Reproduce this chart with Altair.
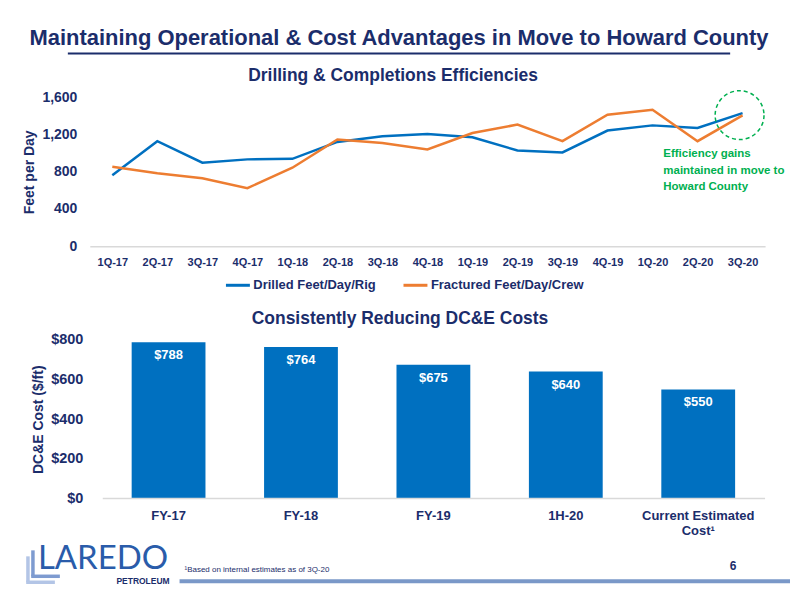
import altair as alt
import pandas as pd

# ---------------- data ----------------
quarters = ["1Q-17", "2Q-17", "3Q-17", "4Q-17", "1Q-18", "2Q-18", "3Q-18", "4Q-18",
            "1Q-19", "2Q-19", "3Q-19", "4Q-19", "1Q-20", "2Q-20", "3Q-20"]
drilled = [763, 1130, 898, 934, 940, 1122, 1183, 1208, 1172, 1030, 1009, 1244, 1300, 1272, 1432]
fractured = [855, 784, 731, 624, 844, 1148, 1110, 1041, 1218, 1308, 1130, 1415, 1468, 1130, 1408]
series_names = ["Drilled Feet/Day/Rig", "Fractured Feet/Day/Crew"]
series_colors = ["#0070C0", "#ED7D31"]
top_ticks = [0, 400, 800, 1200, 1600]

periods = ["FY-17", "FY-18", "FY-19", "1H-20", "Current Estimated Cost¹"]
costs = [788, 764, 675, 640, 550]
bottom_ticks = [0, 200, 400, 600, 800]

main_title = "Maintaining Operational & Cost Advantages in Move to Howard County"
top_title = "Drilling & Completions Efficiencies"
bottom_title = "Consistently Reducing DC&E Costs"
annotation_text = "Efficiency gains\nmaintained in move to\nHoward County"
annotation_quarter = ["3Q-20"]
annotation_value = [1410]
footnote = "¹Based on internal estimates as of 3Q-20"
page_number = "6"
logo_main = "LAREDO"
logo_sub = "PETROLEUM"

# ---------------- style ----------------
NAVY = "#1B2D6B"
GREEN = "#00B050"
FONT = "Liberation Sans"
W = 677
H_TOP = 149
H_BOT = 159

df_lines = pd.DataFrame({
    "quarter": quarters * 2,
    "value": drilled + fractured,
    "series": [series_names[0]] * len(quarters) + [series_names[1]] * len(quarters),
})
df_bars = pd.DataFrame({"period": periods, "cost": costs})
dummy = pd.DataFrame({"k": [0]})

x_top = alt.X("quarter:N", sort=quarters,
              scale=alt.Scale(type="point", padding=0.5),
              axis=alt.Axis(title=None, labelAngle=0, labelFontSize=11, labelFont=FONT,
                            labelFontWeight="bold", labelColor=NAVY, labelPadding=10,
                            ticks=False, domainColor="#D9D9D9", domainWidth=1.5, grid=False))
y_top = alt.Y("value:Q", scale=alt.Scale(domain=[0, 1600], nice=False),
              axis=alt.Axis(values=top_ticks, tickCount=len(top_ticks), format=",.0f",
                            title="Feet per Day",
                            labelFontSize=14, labelFont=FONT, labelFontWeight="bold",
                            labelColor=NAVY, labelPadding=13, ticks=False, domain=False,
                            grid=False, labelOverlap=False, titleFontSize=14, titleFont=FONT,
                            titleFontWeight="bold", titleColor=NAVY, titlePadding=5))

lines = alt.Chart(df_lines).mark_line(strokeWidth=2.5).encode(
    x=x_top, y=y_top,
    color=alt.Color("series:N", sort=series_names,
                    scale=alt.Scale(domain=series_names, range=series_colors),
                    legend=alt.Legend(orient="none", legendX=135, legendY=174.5,
                                      direction="horizontal", title=None,
                                      symbolType="stroke", symbolSize=576,
                                      symbolStrokeWidth=3, labelFontSize=13,
                                      labelFont=FONT, labelFontWeight="bold",
                                      labelColor=NAVY, columnPadding=21,
                                      labelOffset=2, padding=0)),
)

df_circle = pd.DataFrame({"quarter": annotation_quarter, "value": annotation_value})
circle = alt.Chart(df_circle).mark_point(
    shape="circle", size=2400, filled=False, color=GREEN, strokeWidth=1.5,
    strokeDash=[4, 3], opacity=1, xOffset=-3
).encode(x=alt.X("quarter:N", sort=quarters), y=alt.Y("value:Q"))

annot = alt.Chart(dummy).mark_text(
    text=annotation_text, lineBreak="\n", align="left", baseline="top",
    font=FONT, fontSize=11.5, fontWeight="bold", color=GREEN, lineHeight=16.5
).encode(x=alt.value(575), y=alt.value(51))

title_main = alt.Chart(dummy).mark_text(
    text=main_title, align="center", baseline="middle", font=FONT, fontSize=22,
    fontWeight="bold", color=NAVY
).encode(x=alt.value(310), y=alt.value(-60))

underline = alt.Chart(dummy).mark_rule(color=NAVY, strokeWidth=2).encode(
    x=alt.value(-22), x2=alt.value(642), y=alt.value(-44))

title_top = alt.Chart(dummy).mark_text(
    text=top_title, align="center", baseline="middle", font=FONT, fontSize=17.5,
    fontWeight="bold", color=NAVY
).encode(x=alt.value(304), y=alt.value(-22))

corner_top = alt.Chart(dummy).mark_rule(strokeOpacity=0, strokeWidth=1).encode(
    x=alt.value(-82), x2=alt.value(-81), y=alt.value(-88.5))
bottom_edge_top = alt.Chart(dummy).mark_rule(strokeOpacity=0, strokeWidth=1).encode(
    x=alt.value(0), x2=alt.value(1), y=alt.value(199.5))

top = alt.layer(lines, circle, annot, title_main, underline, title_top,
                corner_top, bottom_edge_top).properties(width=W, height=H_TOP)

# ---------------- bottom chart ----------------
x_bot = alt.X("period:N", sort=periods,
              scale=alt.Scale(paddingInner=0.4426, paddingOuter=0.2712, align=0.583),
              axis=alt.Axis(title=None, labelAngle=0, labelFontSize=13, labelFont=FONT,
                            labelFontWeight="bold", labelColor=NAVY, labelPadding=11,
                            ticks=False, domain=False, grid=False, labelLineHeight=15,
                            labelExpr="datum.value == 'Current Estimated Cost¹' ? ['Current Estimated', 'Cost¹'] : datum.label"))
y_bot = alt.Y("cost:Q", scale=alt.Scale(domain=[0, 800], nice=False),
              axis=alt.Axis(values=bottom_ticks, tickCount=len(bottom_ticks),
                            format="$,.0f", title="DC&E Cost ($/ft)",
                            labelFontSize=14.5, labelFont=FONT, labelFontWeight="bold",
                            labelColor=NAVY, labelPadding=7, ticks=False, domain=False,
                            grid=False, labelOverlap=False, titleFontSize=14, titleFont=FONT,
                            titleFontWeight="bold", titleColor=NAVY, titlePadding=5))

bars = alt.Chart(df_bars).mark_bar(color="#0070C0").encode(x=x_bot, y=y_bot)
bar_labels = alt.Chart(df_bars).mark_text(
    color="white", font=FONT, fontSize=13, fontWeight="bold", baseline="middle", dy=13
).encode(x=alt.X("period:N", sort=periods), y=alt.Y("cost:Q"),
         text=alt.Text("cost:Q", format="$,.0f"))

baseline_rule = alt.Chart(dummy).mark_rule(color="#D9D9D9", strokeWidth=1.5).encode(
    x=alt.value(13), x2=alt.value(677), y=alt.value(H_BOT))

title_bot = alt.Chart(dummy).mark_text(
    text=bottom_title, align="center", baseline="middle", font=FONT, fontSize=17.5,
    fontWeight="bold", color=NAVY
).encode(x=alt.value(311), y=alt.value(-21))

foot = alt.Chart(dummy).mark_text(
    text=footnote, align="left", baseline="middle", font=FONT, fontSize=8, color=NAVY
).encode(x=alt.value(95), y=alt.value(231))

page = alt.Chart(dummy).mark_text(
    text=page_number, align="center", baseline="middle", font=FONT, fontSize=12,
    fontWeight="bold", color=NAVY
).encode(x=alt.value(645), y=alt.value(227))

footer_line = alt.Chart(dummy).mark_rule(color="#7A98C8", strokeWidth=4).encode(
    x=alt.value(90), x2=alt.value(702), y=alt.value(242))

logo_l1v = alt.Chart(dummy).mark_rule(color="#7E9BD0", strokeWidth=3.5).encode(
    x=alt.value(-57), y=alt.value(211), y2=alt.value(237))
logo_l1h = alt.Chart(dummy).mark_rule(color="#7E9BD0", strokeWidth=3.5).encode(
    x=alt.value(-58.75), x2=alt.value(-30), y=alt.value(237))
logo_l2v = alt.Chart(dummy).mark_rule(color="#B3C5E6", strokeWidth=3.5).encode(
    x=alt.value(-62), y=alt.value(217), y2=alt.value(243))
logo_l2h = alt.Chart(dummy).mark_rule(color="#B3C5E6", strokeWidth=3.5).encode(
    x=alt.value(-63.75), x2=alt.value(-35), y=alt.value(243))

logo_text = alt.Chart(dummy).mark_text(
    text=logo_main, align="left", baseline="middle", font="Lato", fontSize=33,
    color="#2A5CAA"
).encode(x=alt.value(-52), y=alt.value(220))

logo_text2 = alt.Chart(dummy).mark_text(
    text=logo_sub, align="right", baseline="middle", font=FONT, fontSize=8.5,
    fontWeight="bold", color=NAVY
).encode(x=alt.value(80), y=alt.value(242))

corner_bot = alt.Chart(dummy).mark_rule(strokeOpacity=0, strokeWidth=1).encode(
    x=alt.value(-82), x2=alt.value(-81), y=alt.value(-40.5))

bottom = alt.layer(bars, bar_labels, baseline_rule, title_bot, foot, page, footer_line,
                   logo_l2v, logo_l2h, logo_l1v, logo_l1h, logo_text, logo_text2,
                   corner_bot).properties(width=W, height=H_BOT)

chart = alt.vconcat(top, bottom, spacing=2).properties(
    padding=0, background="white"
).configure_view(stroke=None)

chart.save("out.html", embed_options={"renderer": "svg", "actions": False})
